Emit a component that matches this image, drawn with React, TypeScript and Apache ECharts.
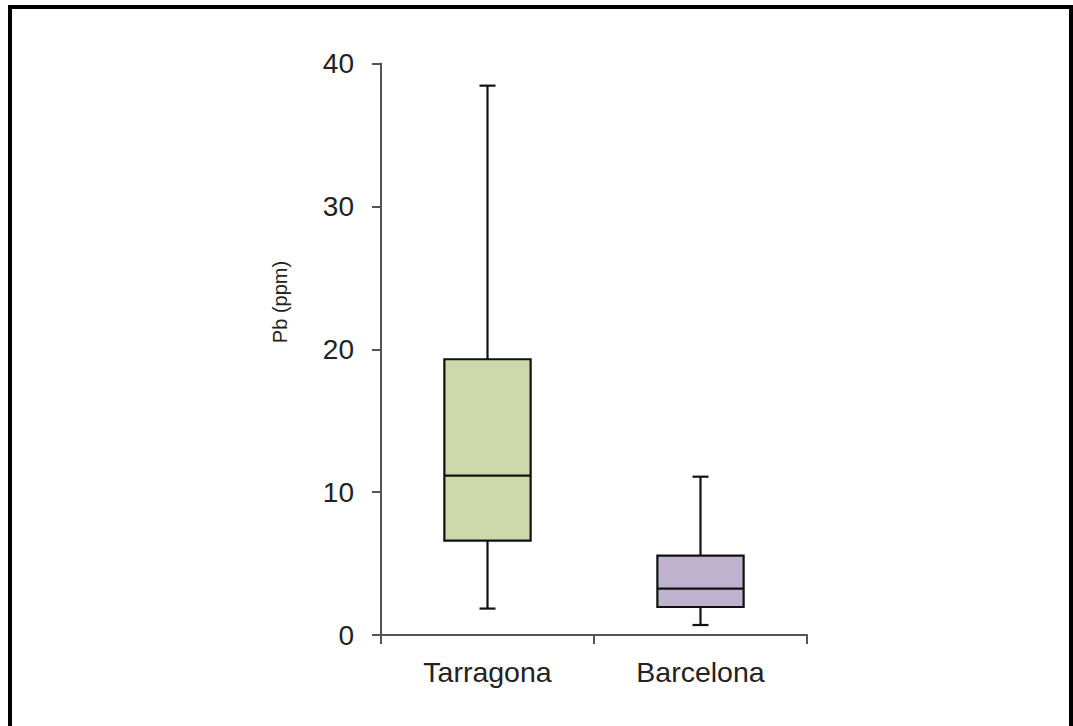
import React, { useEffect, useRef } from "react";
import * as echarts from "echarts";

const categories = ["Tarragona", "Barcelona"];
const mins = [1.85, 0.7];
const q1s = [6.6, 1.96];
const medians = [11.15, 3.24];
const q3s = [19.3, 5.55];
const maxs = [38.45, 11.08];
const boxColors = ["#cdd9ab", "#bfb2cf"];
const yTicks = { min: 0, max: 40, interval: 10 };
const yAxisTitle = "Pb (ppm)";

export default function App() {
  const ref = useRef<HTMLDivElement>(null);
  useEffect(() => {
    if (!ref.current) return;
    const chart = echarts.init(ref.current, null, { renderer: "svg" });
    const data = categories.map((_, i) => [i, mins[i], q1s[i], medians[i], q3s[i], maxs[i]]);
    const font = "'Liberation Sans', Arial, sans-serif";
    chart.setOption({
      animation: false,
      backgroundColor: "#ffffff",
      grid: { left: 381, right: 266, top: 63.5, bottom: 91, containLabel: false },
      xAxis: {
        type: "category",
        data: categories,
        boundaryGap: true,
        axisLine: { lineStyle: { color: "#555", width: 2 } },
        axisTick: { show: true, length: 9, lineStyle: { color: "#555", width: 2 } },
        axisLabel: { color: "#222", fontSize: 28.5, fontFamily: font, margin: 22 },
        splitLine: { show: false },
      },
      yAxis: {
        type: "value",
        min: yTicks.min,
        max: yTicks.max,
        interval: yTicks.interval,
        axisLine: { show: true, lineStyle: { color: "#555", width: 2 } },
        axisTick: { show: true, length: 9, lineStyle: { color: "#555", width: 2 } },
        axisLabel: { color: "#222", fontSize: 28, fontFamily: font, margin: 27 },
        splitLine: { show: false },
      },
      series: [
        {
          type: "custom",
          data,
          encode: { x: 0, y: [1, 2, 3, 4, 5] },
          renderItem: (params: any, api: any) => {
            const i = api.value(0);
            const pMin = api.coord([i, api.value(1)]);
            const pQ1 = api.coord([i, api.value(2)]);
            const pMed = api.coord([i, api.value(3)]);
            const pQ3 = api.coord([i, api.value(4)]);
            const pMax = api.coord([i, api.value(5)]);
            const band = api.size([1, 0])[0];
            const bw = band * 0.405;
            const cap = 16;
            const x = pMed[0];
            const ls = { stroke: "#111", lineWidth: 2.2 };
            return {
              type: "group",
              children: [
                { type: "line", shape: { x1: x, y1: pQ3[1], x2: x, y2: pMax[1] }, style: ls },
                { type: "line", shape: { x1: x, y1: pQ1[1], x2: x, y2: pMin[1] }, style: ls },
                { type: "line", shape: { x1: x - cap / 2, y1: pMax[1], x2: x + cap / 2, y2: pMax[1] }, style: ls },
                { type: "line", shape: { x1: x - cap / 2, y1: pMin[1], x2: x + cap / 2, y2: pMin[1] }, style: ls },
                {
                  type: "rect",
                  shape: { x: x - bw / 2, y: pQ3[1], width: bw, height: pQ1[1] - pQ3[1] },
                  style: { fill: boxColors[params.dataIndex], stroke: "#111", lineWidth: 2.2 },
                },
                { type: "line", shape: { x1: x - bw / 2, y1: pMed[1], x2: x + bw / 2, y2: pMed[1] }, style: ls },
              ],
            };
          },
        },
      ],
      graphic: [
        {
          type: "rect",
          shape: { x: 10, y: 7, width: 1061, height: 740 },
          style: { fill: "none", stroke: "#000", lineWidth: 4 },
          silent: true,
        },
        {
          type: "text",
          x: 280,
          y: 302,
          rotation: Math.PI / 2,
          style: {
            text: yAxisTitle,
            fill: "#222",
            fontSize: 20,
            fontFamily: font,
            align: "center",
            verticalAlign: "middle",
          },
          silent: true,
        },
      ],
    });
    return () => chart.dispose();
  }, []);
  return (
    <div
      ref={ref}
      style={{ position: "fixed", left: 0, top: 0, width: 1073, height: 726 }}
    />
  );
}
